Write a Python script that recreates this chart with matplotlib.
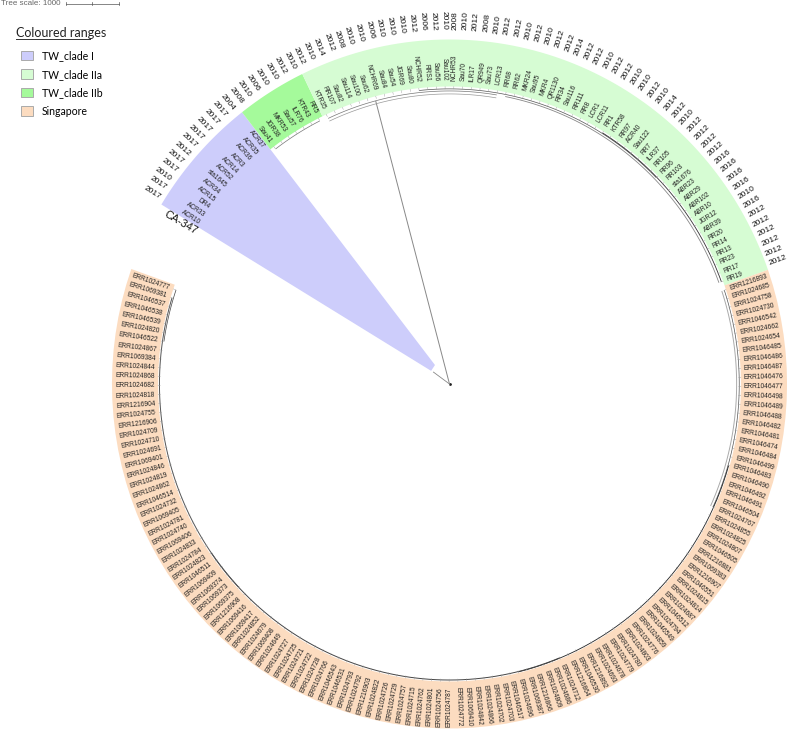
import numpy as np
import matplotlib
matplotlib.use("Agg")
import matplotlib.pyplot as plt
from matplotlib.patches import Patch

# leaves, clockwise
clade_1 = ["ACR10", "ACR33", "DR4", "ACR15", "ACR34", "sta1645", "ACR52", "ACR14", "ACR3",
           "ACR36", "ACR35", "ACR37"]
clade_2b = ["Sau41", "JGR38", "MKR53", "Sau57", "ILR76", "KTR43", "RR5"]
clade_2a = ["KTR35", "RR107", "Sau82", "Sau114", "Sau100", "Sau62", "NCHR69", "Sau84", "Sau54",
            "JGR69", "Sau80", "NCHR52", "RRS1", "Sau56", "Sau102", "NCHR53", "Sau70", "ILR17",
            "QR949", "Sau73", "LCR13", "RR68", "RR62", "MKR24", "Sau95", "MKR4", "QR1130", "RR34",
            "Sau116", "RR111", "RR8", "LCR1", "LCR11", "RR1", "KTR58", "RR97", "ACR40", "Sau122",
            "RR7", "ILR37", "RR105", "RR96", "RR103", "sta1676", "ABR23", "ABR29", "ABR102",
            "ABR10", "JGR12", "ABR39", "RR20", "RR14", "RR13", "RR23", "RR17", "RR19"]
singapore = ["ERR1216893", "ERR1024685", "ERR1024758", "ERR1024730", "ERR1046542", "ERR1024662",
             "ERR1024654", "ERR1046485", "ERR1046486", "ERR1046487", "ERR1046476", "ERR1046477",
             "ERR1046498", "ERR1046489", "ERR1046488", "ERR1046482", "ERR1046481", "ERR1046474",
             "ERR1046484", "ERR1046499", "ERR1046483", "ERR1046490", "ERR1046492", "ERR1046491",
             "ERR1046504", "ERR1024767", "ERR1024855", "ERR1024825", "ERR1024807", "ERR1046505",
             "ERR1216881", "ERR1069383", "ERR1216907", "ERR1046551", "ERR1024815", "ERR1024814",
             "ERR1024687", "ERR1046512", "ERR1024794", "ERR1046549", "ERR1024859", "ERR1024776",
             "ERR1024803", "ERR1024780", "ERR1024779", "ERR1024678", "ERR1024693", "ERR1216892",
             "ERR1046530", "ERR1216864", "ERR1024712", "ERR1024686", "ERR1024809", "ERR1216866",
             "ERR1069387", "ERR1024696", "ERR1046517", "ERR1024703", "ERR1024702", "ERR1024866",
             "ERR1024842", "ERR1069410", "ERR1024772", "ERR1024787", "ERR1024756", "ERR1024801",
             "ERR1024762", "ERR1024715", "ERR1024757", "ERR1024729", "ERR1024726", "ERR1024822",
             "ERR1216903", "ERR1024792", "ERR1024793", "ERR1046531", "ERR1046543", "ERR1024766",
             "ERR1024728", "ERR1024722", "ERR1024721", "ERR1024725", "ERR1024727", "ERR1024649",
             "ERR1069408", "ERR1024679", "ERR1024852", "ERR1069417", "ERR1069416", "ERR1216908",
             "ERR1069375", "ERR1069373", "ERR1069374", "ERR1069409", "ERR1046511", "ERR1024823",
             "ERR1024784", "ERR1024833", "ERR1069406", "ERR1024740", "ERR1024781", "ERR1069405",
             "ERR1024732", "ERR1046514", "ERR1024862", "ERR1024819", "ERR1024846", "ERR1069401",
             "ERR1024691", "ERR1024710", "ERR1024709", "ERR1216906", "ERR1024755", "ERR1216904",
             "ERR1024818", "ERR1024682", "ERR1024868", "ERR1024844", "ERR1069384", "ERR1024867",
             "ERR1046522", "ERR1024820", "ERR1046539", "ERR1046538", "ERR1046537", "ERR1069381",
             "ERR1024777"]

# isolation year, only the Taiwan leaves have one
years = [2017, 2017, 2010, 2017, 2017, 2012, 2017, 2017, 2017, 2017, 2017, 2004,
         2008, 2010, 2006, 2010, 2010, 2012, 2010,
         2012, 2010, 2014, 2012, 2008, 2010, 2010, 2006, 2010, 2010, 2010, 2012, 2006, 2012, 2010,
         2008, 2010, 2012, 2008, 2010, 2012, 2012, 2010, 2012, 2010, 2012, 2012, 2014, 2012, 2012,
         2010, 2012, 2012, 2010, 2010,
         2012, 2010, 2014, 2012, 2010, 2012, 2012, 2012, 2012, 2016, 2016, 2016, 2016, 2010, 2016,
         2012, 2012, 2012, 2012, 2012, 2012]

range_names = ["TW_clade I", "TW_clade IIa", "TW_clade IIb", "Singapore"]
range_colors = ["#cdcdfb", "#d6fcd3", "#a5fa9b", "#fcdcc0"]

# tree arcs near the tips: first leaf, last leaf, radius, colour, width
tree_arcs = [(12, 18, 0.990, "#777777", 0.5), (19, 39, 0.975, "#999999", 0.5),
             (19, 39, 0.985, "#777777", 0.5), (30, 60, 0.992, "#555555", 0.5),
             (40, 74, 0.985, "#888888", 0.6), (52, 74, 0.994, "#333333", 0.6),
             (75, 100, 0.985, "#aaaaaa", 0.7), (75, 100, 0.994, "#555555", 0.5),
             (95, 130, 0.996, "#222222", 0.6), (125, 170, 0.995, "#444444", 0.7),
             (165, 200, 0.995, "#555555", 0.7), (195, 201, 0.99, "#444444", 0.5)]

W, H = 787, 731
CX, CY, RX, RY = 449.5, 384.0, 291.5, 297.5  # ring is a bit squashed in the picture
START, END = 148.6, 160.5 - 360
OUTER = 1.158

all_leaves = clade_1 + clade_2b + clade_2a + singapore
n = len(all_leaves)
step = (START - END) / n
edges = np.cumsum([0, len(clade_1), len(clade_2b), len(clade_2a), len(singapore)])


def polar(r, a):
    return r * np.cos(np.radians(a)), r * np.sin(np.radians(a))


def leaf_angle(i):
    return START - (i + 0.5) * step


def band(i0, i1, r0, r1):
    a = np.linspace(START - i0 * step, START - i1 * step, 80)
    x1, y1 = polar(r1, a)
    x0, y0 = polar(r0, a[::-1])
    return np.r_[x1, x0], np.r_[y1, y0]


plt.rcParams["font.family"] = ["Liberation Sans", "DejaVu Sans"]
fig = plt.figure(figsize=(W / 100, H / 100), dpi=100)
ax = fig.add_axes([0, 0, 1, 1])
ax.set_xlim(-CX / RX, (W - CX) / RX)
ax.set_ylim((CY - H) / RY, CY / RY)
ax.axis("off")

# coloured ranges
a_blue = np.linspace(START, START - edges[1] * step, 80)
bx, by = polar(OUTER, a_blue)
tipx, tipy = polar(np.array([0.081, 0.077]), np.array([128, 145]))
ax.fill(np.r_[bx, tipx], np.r_[by, tipy], color=range_colors[0], lw=0)
order = [None, 2, 1, 3]
for k in (1, 2, 3):
    x, y = band(edges[k], edges[k + 1], 1.0, OUTER)
    ax.fill(x, y, color=range_colors[order[k]], lw=0)

# tree
root = polar(0, 0)
ax.plot(*root, "o", ms=1.0, color="#222222")
sx, sy = polar(0.068, 144)
ax.plot([root[0], sx], [root[1], sy], color="#888888", lw=0.6)
sx, sy = polar(0.983, 104.9)
ax.plot([root[0], sx], [root[1], sy], color="#888888", lw=0.7)
for i0, i1, r, c, lw in tree_arcs:
    x, y = polar(r, np.linspace(leaf_angle(i0), leaf_angle(i1), 60))
    ax.plot(x, y, color=c, lw=lw, solid_capstyle="butt")
for i in range(edges[1], n):
    x, y = polar(np.array([0.992, 1.0]), leaf_angle(i))
    ax.plot(x, y, color="#999999", lw=0.3)


def radial_text(r0, r1, a, s, size, color):
    # the picture is stretched a little, text sits further out at top and bottom
    r = r0 + r1 * abs(np.sin(np.radians(a)))
    x, y = polar(r, a)
    a = a % 360
    if 90 < a < 270:
        ax.text(x, y, s, rotation=a - 180, ha="right", va="center", rotation_mode="anchor",
                fontsize=size, color=color)
    else:
        ax.text(x, y, s, rotation=a, ha="left", va="center", rotation_mode="anchor",
                fontsize=size, color=color)


for i, name in enumerate(all_leaves):
    radial_text(1.010, 0.010, leaf_angle(i), name, 4.8, "#222222")
for i, yr in enumerate(years):
    radial_text(1.155, 0.035, leaf_angle(i), str(yr), 6.0, "#111111")

# the reference strain sits on top of the ring
x, y = polar(1.07, 149.5)
ax.text(x, y, "CA-347", rotation=-30.5, ha="center", va="center", rotation_mode="anchor",
        fontsize=7.8, color="#111111")

# tree scale
fig.text(1 / W, 1 - 3.5 / H, "Tree scale: 1000", fontsize=5.8, color="#666666", va="center")
fig.add_artist(plt.Line2D([65.5 / W, 119 / W], [1 - 3.5 / H] * 2, color="#555555", lw=0.5))
for px in (65.5, 92, 119):
    fig.add_artist(plt.Line2D([px / W] * 2, [1 - 2 / H, 1 - 5 / H], color="#555555", lw=0.5))

# legend
fig.text(16 / W, 1 - 33 / H, "Coloured ranges", family="Lato", fontsize=9, color="#222222",
         va="center")
fig.add_artist(plt.Line2D([16 / W, 90 / W], [1 - 39 / H] * 2, color="#333333", lw=0.7))
handles = [Patch(facecolor=c, edgecolor="#aaaaaa", lw=0.7, label=name)
           for c, name in zip(range_colors, range_names)]
fig.legend(handles=handles, loc="upper left", bbox_to_anchor=(21 / W, 1 - 50 / H), frameon=False,
           handlelength=1.12, handleheight=1.05, handletextpad=0.85, labelspacing=0.72,
           borderpad=0.0, borderaxespad=0.0, prop={"family": "Lato", "size": 7.6})

fig.savefig("out.png", dpi=100)
